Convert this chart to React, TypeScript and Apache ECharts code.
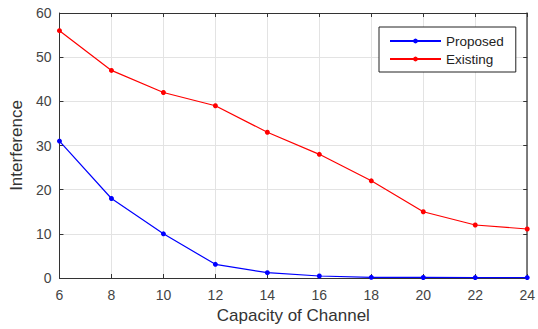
import React, { useEffect, useRef } from "react";
import * as echarts from "echarts";

const capacity = [6, 8, 10, 12, 14, 16, 18, 20, 22, 24];
const proposed = [31, 18, 10, 3.1, 1.2, 0.45, 0.15, 0.12, 0.1, 0.1];
const existing = [56, 47, 42, 39, 33, 28, 22, 15, 12, 11.1];

export default function App() {
  const ref = useRef<HTMLDivElement>(null);
  useEffect(() => {
    const chart = echarts.init(ref.current!, null, { renderer: "svg" });
    const font = "'Liberation Sans', Arial, sans-serif";
    const toPairs = (ys: number[]) => capacity.map((x, i) => [x, ys[i]]);
    chart.setOption({
      animation: false,
      backgroundColor: "#fff",
      grid: { left: 58, right: 10, top: 13, bottom: 49 },
      legend: {
        orient: "vertical",
        left: 379,
        top: 27,
        padding: [7, 12, 6, 10],
        itemGap: 4,
        itemWidth: 51,
        itemHeight: 6,
        borderColor: "#222",
        borderWidth: 1,
        borderRadius: 0,
        backgroundColor: "#fff",
        textStyle: { fontFamily: font, fontSize: 13.5, color: "#222" },
        data: ["Proposed", "Existing"],
      },
      xAxis: [
        {
          type: "value",
          min: 6,
          max: 24,
          interval: 2,
          name: "Capacity of Channel",
          nameLocation: "middle",
          nameGap: 29,
          nameTextStyle: { fontFamily: font, fontSize: 17, color: "#333" },
          axisLine: { lineStyle: { color: "#333", width: 1 } },
          axisTick: { inside: true, length: 4, lineStyle: { color: "#333" } },
          axisLabel: { fontFamily: font, fontSize: 14, color: "#444", margin: 10 },
          splitLine: { show: true, lineStyle: { color: "#e3e3e3" } },
        },
        {
          type: "value",
          position: "top",
          min: 6,
          max: 24,
          interval: 2,
          axisLine: { show: true, onZero: false, lineStyle: { color: "#333", width: 1 } },
          axisTick: { show: true, inside: true, length: 4, lineStyle: { color: "#333" } },
          axisLabel: { show: false },
          splitLine: { show: false },
        },
      ],
      yAxis: [
        {
          type: "value",
          min: 0,
          max: 60,
          interval: 10,
          name: "Interference",
          nameLocation: "middle",
          nameGap: 34,
          nameTextStyle: { fontFamily: font, fontSize: 17, color: "#333" },
          axisLine: { show: true, lineStyle: { color: "#333", width: 1 } },
          axisTick: { show: true, inside: true, length: 4, lineStyle: { color: "#333" } },
          axisLabel: { fontFamily: font, fontSize: 14, color: "#444", margin: 8 },
          splitLine: { show: true, lineStyle: { color: "#e3e3e3" } },
        },
        {
          type: "value",
          position: "right",
          min: 0,
          max: 60,
          interval: 10,
          axisLine: { show: true, onZero: false, lineStyle: { color: "#555", width: 1.5 } },
          axisTick: { show: true, inside: true, length: 4, lineStyle: { color: "#333" } },
          axisLabel: { show: false },
          splitLine: { show: false },
        },
      ],
      series: [
        {
          name: "Proposed",
          type: "line",
          data: toPairs(proposed),
          symbol: "circle",
          symbolSize: 5,
          itemStyle: { color: "#0000ff" },
          lineStyle: { color: "#0000ff", width: 1.2 },
        },
        {
          name: "Existing",
          type: "line",
          data: toPairs(existing),
          symbol: "circle",
          symbolSize: 5,
          itemStyle: { color: "#ff0000" },
          lineStyle: { color: "#ff0000", width: 1.2 },
        },
      ],
    });
    return () => chart.dispose();
  }, []);
  return <div ref={ref} style={{ width: 538, height: 329, position: "fixed", left: 0, top: 0 }} />;
}
